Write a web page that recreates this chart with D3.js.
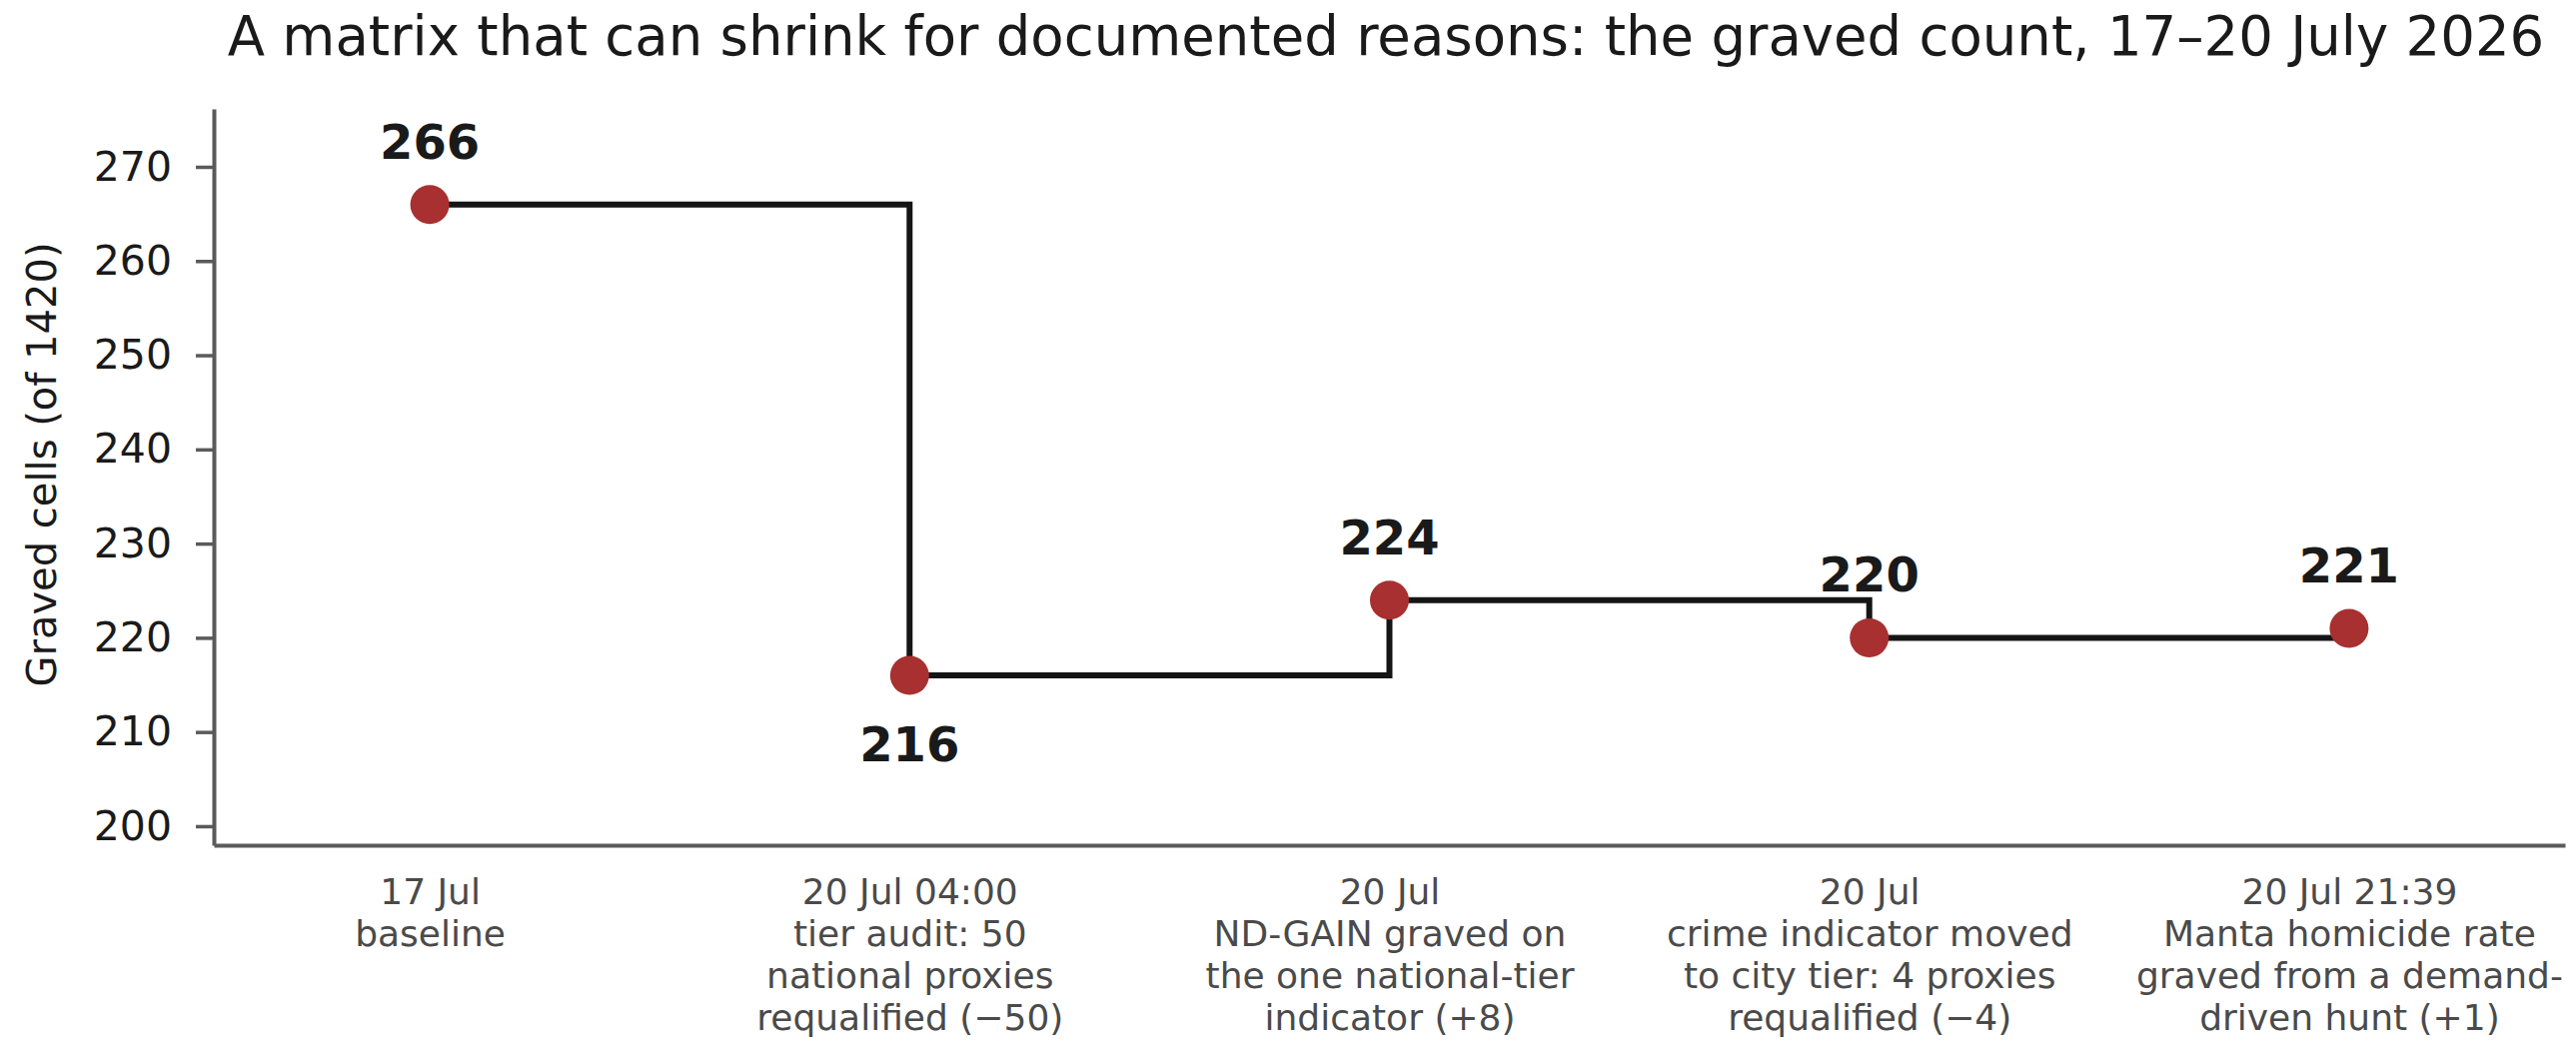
<!DOCTYPE html>
<html>
<head>
<meta charset="utf-8">
<script src="https://cdn.jsdelivr.net/npm/d3@7"></script>
<style>
  body { margin: 0; background: #fff; }
  svg { display: block; }
  svg text { font-family: "DejaVu Sans", sans-serif; }
</style>
</head>
<body>
<script>
// step positions (one per event) and the graved count after each one
var dates = ['17 Jul', '20 Jul 04:00', '20 Jul', '20 Jul', '20 Jul 21:39'];
var notes = [
  ['baseline'],
  ['tier audit: 50', 'national proxies', 'requalified (\u221250)'],
  ['ND-GAIN graved on', 'the one national-tier', 'indicator (+8)'],
  ['crime indicator moved', 'to city tier: 4 proxies', 'requalified (\u22124)'],
  ['Manta homicide rate', 'graved from a demand-', 'driven hunt (+1)']
];
var counts = [266, 216, 224, 220, 221];
var yTicks = [200, 210, 220, 230, 240, 250, 260, 270];

var W = 2578, H = 1061;
var margin = { top: 109, right: 11, bottom: 215, left: 214 };

var svg = d3.select('body').append('svg')
  .attr('width', W)
  .attr('height', H);

var x = d3.scaleLinear()
  .domain([-0.45, 4.45])
  .range([margin.left, W - margin.right]);

var y = d3.scaleLinear()
  .domain([197.98, 276.15])
  .range([H - margin.bottom, margin.top]);

// title
svg.append('text')
  .attr('x', 1387)
  .attr('y', 55)
  .attr('text-anchor', 'middle')
  .style('font-size', '54.5px')
  .style('fill', '#1a1a1a')
  .text('A matrix that can shrink for documented reasons: the graved count, 17\u201320 July 2026');

// y axis
var yAxis = svg.append('g')
  .attr('transform', 'translate(' + margin.left + ',0)')
  .call(d3.axisLeft(y).tickValues(yTicks).tickSize(18).tickPadding(24).tickSizeOuter(0));
yAxis.attr('font-family', null);
yAxis.select('.domain').attr('stroke', '#5a5a5a').attr('stroke-width', 4);
yAxis.selectAll('.tick line').attr('stroke', '#5a5a5a').attr('stroke-width', 3.5);
yAxis.selectAll('.tick text')
  .style('font-size', '41px')
  .style('fill', '#1a1a1a');

svg.append('text')
  .attr('transform', 'translate(42,465) rotate(-90)')
  .attr('text-anchor', 'middle')
  .attr('dy', '0.35em')
  .style('font-size', '40px')
  .style('fill', '#1a1a1a')
  .text('Graved cells (of 1420)');

// x axis
var xAxis = svg.append('g')
  .attr('transform', 'translate(0,' + (H - margin.bottom) + ')')
  .call(d3.axisBottom(x).tickValues(d3.range(dates.length)).tickSize(0).tickPadding(0).tickSizeOuter(0).tickFormat(''));
xAxis.attr('font-family', null);
xAxis.select('.domain').attr('stroke', '#5a5a5a').attr('stroke-width', 4);

xAxis.selectAll('.tick text').each(function(d) {
  var t = d3.select(this)
    .attr('y', 0)
    .attr('dy', null)
    .style('font-size', '36px')
    .style('fill', '#4a4a4a');
  var lines = [dates[d]].concat(notes[d]);
  lines.forEach(function(line, i) {
    t.append('tspan')
      .attr('x', 0)
      .attr('y', 59 + i * 42)
      .text(line);
  });
});

// step line (value holds until the next event)
var line = d3.line()
  .x(function(d, i) { return x(i); })
  .y(function(d) { return y(d); })
  .curve(d3.curveStepAfter);

svg.append('path')
  .datum(counts)
  .attr('d', line)
  .attr('fill', 'none')
  .attr('stroke', '#151515')
  .attr('stroke-width', 6);

svg.selectAll('.pt')
  .data(counts)
  .enter().append('circle')
  .attr('class', 'pt')
  .attr('cx', function(d, i) { return x(i); })
  .attr('cy', function(d) { return y(d); })
  .attr('r', 19.5)
  .attr('fill', '#a83030');

// value labels, the lowest one sits under its point
var lowest = d3.min(counts);
svg.selectAll('.val')
  .data(counts)
  .enter().append('text')
  .attr('class', 'val')
  .attr('x', function(d, i) { return x(i); })
  .attr('y', function(d) { return d === lowest ? y(d) + 86 : y(d) - 46; })
  .attr('text-anchor', 'middle')
  .style('font-size', '48px')
  .style('font-weight', 'bold')
  .style('fill', '#1a1a1a')
  .text(function(d) { return d; });
</script>
</body>
</html>
